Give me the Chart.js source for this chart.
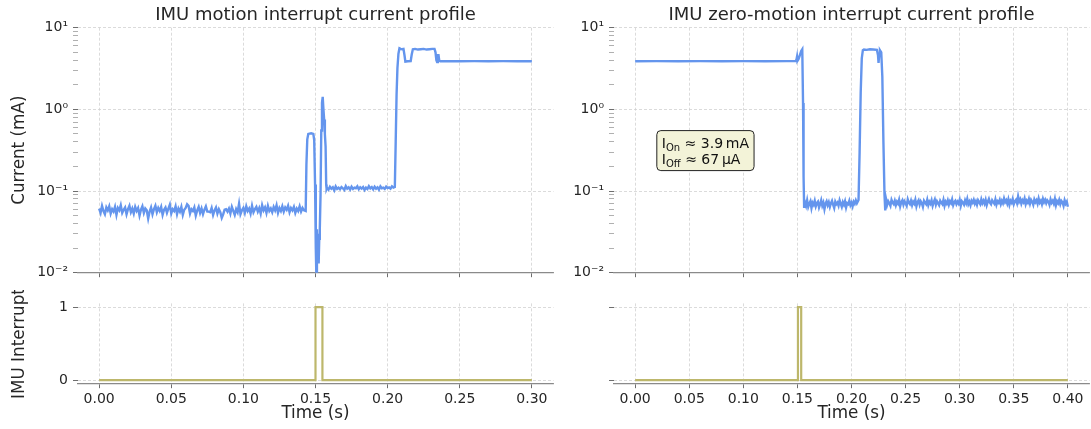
<!DOCTYPE html>
<html>
<head>
<meta charset="utf-8">
<script src="https://cdn.jsdelivr.net/npm/chart.js@4.4.1/dist/chart.umd.min.js"></script>
<style>
html,body{margin:0;padding:0;background:#fff;width:1091px;height:429px;overflow:hidden}
canvas{position:absolute;display:block}
</style>
</head>
<body>
<canvas id="tl" width="560" height="290" style="left:0px;top:0px"></canvas>
<canvas id="bl" width="560" height="139" style="left:0px;top:290px"></canvas>
<canvas id="tr" width="531" height="290" style="left:560px;top:0px"></canvas>
<canvas id="br" width="531" height="139" style="left:560px;top:290px"></canvas>
<script>
// ---------------- DATA ----------------
const titles = ['IMU motion interrupt current profile', 'IMU zero-motion interrupt current profile'];
const yLabelTop = 'Current (mA)';
const yLabelBottom = 'IMU Interrupt';
const xLabel = 'Time (s)';
const decadeValues = [0.01, 0.1, 1, 10];
const decadeLabels = ['10\u207B\u00B2', '10\u207B\u00B9', '10\u2070', '10\u00B9'];
const infoLines = [['I', 'On', ' \u2248 3.9\u2009mA'], ['I', 'Off', ' \u2248 67\u2009\u00B5A']];

const sampleStep = 0.001; // s, spacing of the noisy baseline samples

// Left: motion interrupt trace (mA)
const leftBaseStart = 0.000;
const leftBaseNoise = [
0.061,0.054,0.066,0.057,0.052,0.063,0.058,0.065,0.053,0.060,
0.056,0.064,0.051,0.062,0.058,0.067,0.054,0.059,0.063,0.052,
0.060,0.066,0.055,0.061,0.053,0.064,0.057,0.062,0.050,0.059,
0.065,0.054,0.061,0.058,0.046,0.056,0.063,0.052,0.060,0.066,
0.055,0.062,0.057,0.064,0.051,0.059,0.063,0.054,0.061,0.068,
0.053,0.060,0.057,0.065,0.052,0.061,0.056,0.064,0.051,0.059,
0.062,0.069,0.066,0.053,0.060,0.057,0.063,0.050,0.058,0.064,
0.054,0.061,0.052,0.059,0.065,0.056,0.056,0.055,0.062,0.051,
0.058,0.063,0.053,0.060,0.055,0.047,0.052,0.059,0.060,0.056,
0.061,0.053,0.064,0.057,0.051,0.060,0.055,0.070,0.052,0.058,
0.062,0.054,0.065,0.057,0.061,0.053,0.066,0.055,0.060,0.064,
0.056,0.062,0.053,0.067,0.058,0.063,0.054,0.066,0.057,0.061,
0.055,0.064,0.058,0.067,0.054,0.062,0.057,0.065,0.056,0.063,
0.059,0.066,0.055,0.062,0.058,0.064,0.054,0.061,0.057,0.065,
0.056,0.062,0.058];
const leftEventT = [0.1432,0.1437,0.1443,0.1450,0.1470,0.1485,0.1491,0.1497,0.1502,0.1506,
0.1510,0.1514,0.1518,0.1522,0.1526,0.1530,0.1535,0.1540,0.1545,0.1550,
0.1555,0.1560,0.1565,0.1570,0.1574,0.1577];
const leftEventI = [0.057,0.21,0.43,0.50,0.51,0.50,0.42,0.12,0.02,0.009,
0.034,0.016,0.030,0.013,0.026,0.035,0.09,0.55,1.20,1.42,
1.00,0.75,0.50,0.35,0.12,0.106];
const leftMidStart = 0.158;
const leftMidNoise = [
0.109,0.104,0.113,0.107,0.111,0.102,0.114,0.106,0.110,0.105,
0.112,0.108,0.103,0.115,0.107,0.111,0.104,0.113,0.106,0.110,
0.108,0.114,0.105,0.111,0.107,0.112,0.103,0.110,0.106,0.115,
0.108,0.112,0.105,0.113,0.107,0.111,0.104,0.114,0.108,0.110,
0.106,0.113,0.109,0.111,0.107,0.114,0.110];
const leftHighT = [0.2050,0.2056,0.2062,0.2068,0.2075,0.2082,0.2090,0.2100,0.2110,0.2117,
0.2123,0.2140,0.2160,0.2167,0.2175,0.2190,0.2210,0.2230,0.2250,0.2270,
0.2290,0.2310,0.2325,0.2332,0.2338,0.2343,0.2348,0.2353,0.2358,0.2365,
0.2400,0.2500,0.2600,0.2700,0.2800,0.2900,0.3000];
const leftHighI = [0.112,0.40,1.5,3.2,4.8,5.6,5.5,5.45,5.5,4.6,
3.85,3.88,3.9,4.7,5.45,5.5,5.4,5.45,5.5,5.4,
5.45,5.5,5.5,5.0,4.0,3.8,4.6,4.6,3.95,3.88,
3.9,3.88,3.9,3.89,3.9,3.88,3.89];

// Right: zero-motion interrupt trace (mA)
const rightOnT = [0,0.02,0.04,0.06,0.08,0.10,0.12,0.14,0.1485,0.1492,0.1497,0.1502,0.151,0.152,0.1535,0.1545,0.1552,0.1557,0.1562];
const rightOnI = [3.88,3.90,3.89,3.90,3.88,3.90,3.89,3.90,3.90,4.10,4.45,3.95,4.10,4.50,5.20,5.45,1.20,0.15,0.064];
const rightLowAStart = 0.157;
const rightLowA = [
0.073,0.066,0.077,0.064,0.070,0.075,0.062,0.072,0.068,0.076,
0.065,0.071,0.074,0.063,0.069,0.077,0.066,0.072,0.060,0.070,
0.075,0.067,0.073,0.064,0.071,0.076,0.068,0.062,0.074,0.069,
0.072,0.066,0.077,0.070,0.064,0.073,0.068,0.075,0.063,0.071,
0.069,0.076,0.067,0.072,0.065,0.074,0.070,0.077,0.071];
const rightPulseT = [0.2065,0.2075,0.2085,0.2095,0.2105,0.2115,0.214,0.217,0.220,0.2235,0.2245,0.2250,0.2256,0.2263,0.2275,0.2285,0.2295,0.2305,0.2312];
const rightPulseI = [0.078,0.3,1.6,4.2,5.3,5.4,5.35,5.45,5.4,5.35,4.6,3.7,4.7,5.3,5.0,2.5,0.4,0.09,0.058];
const rightLowBStart = 0.232;
const rightLowB = [
0.079,0.068,0.075,0.071,0.066,0.078,0.072,0.069,0.076,0.067,
0.074,0.070,0.078,0.065,0.073,0.077,0.068,0.075,0.071,0.066,
0.079,0.072,0.069,0.076,0.067,0.074,0.070,0.078,0.065,0.073,
0.077,0.068,0.075,0.071,0.064,0.076,0.072,0.069,0.078,0.067,
0.074,0.070,0.077,0.066,0.073,0.079,0.068,0.075,0.071,0.067,
0.076,0.072,0.069,0.078,0.066,0.074,0.070,0.077,0.068,0.075,
0.071,0.079,0.067,0.073,0.076,0.069,0.074,0.070,0.078,0.066,
0.075,0.072,0.068,0.077,0.071,0.080,0.069,0.074,0.067,0.076,
0.072,0.078,0.070,0.075,0.068,0.077,0.073,0.069,0.079,0.071,
0.076,0.070,0.078,0.067,0.074,0.080,0.072,0.069,0.077,0.073,
0.070,0.079,0.068,0.075,0.072,0.078,0.069,0.076,0.071,0.081,
0.073,0.077,0.070,0.079,0.068,0.076,0.072,0.080,0.069,0.075,
0.078,0.071,0.086,0.074,0.079,0.070,0.077,0.073,0.081,0.069,
0.076,0.072,0.080,0.070,0.078,0.074,0.068,0.079,0.073,0.077,
0.070,0.081,0.072,0.076,0.069,0.080,0.073,0.078,0.071,0.077,
0.074,0.068,0.079,0.072,0.076,0.070,0.080,0.067,0.075,0.071,
0.078,0.069,0.076,0.073,0.066,0.077,0.070,0.074,0.064];

// Interrupt lines (step)
const leftIntT = [0, 0.150, 0.1548, 0.300];
const leftIntV = [0, 1, 0, 0];
const rightIntT = [0, 0.1505, 0.1535, 0.400];
const rightIntV = [0, 1, 0, 0];

// ---------------- BUILD ----------------
function sampled(t0, vals) { return vals.map((v, i) => ({x: +(t0 + i * sampleStep).toFixed(4), y: v})); }
function pairs(ts, vs) { return ts.map((t, i) => ({x: t, y: vs[i]})); }

const leftCurrent = [].concat(sampled(leftBaseStart, leftBaseNoise), pairs(leftEventT, leftEventI),
  sampled(leftMidStart, leftMidNoise), pairs(leftHighT, leftHighI));
const rightCurrent = [].concat(pairs(rightOnT, rightOnI), sampled(rightLowAStart, rightLowA),
  pairs(rightPulseT, rightPulseI), sampled(rightLowBStart, rightLowB));

const FONT = "'DejaVu Sans', 'Noto Sans', sans-serif";
Chart.defaults.font.family = FONT;
Chart.defaults.color = '#262626';

const GRID = '#d2d2d2';
const SPINE = '#8a8a8a';
const TICKC = '#6e6e6e';
const DASH = [3, 2];
const CUR_COLOR = '#6495ED';
const INT_COLOR = '#BDB76B';

function decadeIndex(v) {
  for (let i = 0; i < decadeValues.length; i++) if (Math.abs(v / decadeValues[i] - 1) < 1e-6) return i;
  return -1;
}
function wholeMantissa(v) {
  const e = Math.floor(Math.log10(v) + 1e-9);
  const m = v / Math.pow(10, e);
  return Math.abs(m - Math.round(m)) < 1e-6;
}

const infoBox = {
  id: 'infoBox',
  afterDatasetsDraw(chart) {
    const {ctx, chartArea: a} = chart;
    const bx = a.left + 0.091 * (a.right - a.left);
    const by = a.top + 0.42 * (a.bottom - a.top);
    const big = "14px " + FONT, small = "10px " + FONT;
    ctx.save();
    const widths = infoLines.map(p => {
      ctx.font = big; let w = ctx.measureText(p[0]).width + ctx.measureText(p[2]).width;
      ctx.font = small; w += ctx.measureText(p[1]).width; return w;
    });
    const pad = 5, lineGap = 16.5;
    const w = Math.max(...widths) + 2 * pad, h = 40;
    ctx.beginPath();
    ctx.roundRect(bx, by, w, h, 4);
    ctx.fillStyle = '#f3f3d8';
    ctx.fill();
    ctx.lineWidth = 1;
    ctx.strokeStyle = '#222';
    ctx.stroke();
    ctx.fillStyle = '#111';
    ctx.textBaseline = 'alphabetic';
    ctx.textAlign = 'left';
    infoLines.forEach((p, i) => {
      const base = by + 17 + i * lineGap;
      let x = bx + pad;
      ctx.font = big; ctx.fillText(p[0], x, base); x += ctx.measureText(p[0]).width;
      ctx.font = small; ctx.fillText(p[1], x, base + 3); x += ctx.measureText(p[1]).width;
      ctx.font = big; ctx.fillText(p[2], x, base);
    });
    ctx.restore();
  }
};

function xScale(o) {
  return {
    type: 'linear', min: o.xMin, max: o.xMax,
    afterFit: s => { s.height = o.xH; },
    ticks: { stepSize: 0.05, includeBounds: false, autoSkip: false, maxRotation: 0,
      font: {size: 14}, color: '#262626', padding: 2.5,
      callback: v => o.xLabels ? Number(v).toFixed(2) : '' },
    grid: { color: GRID, lineWidth: 0.8, tickColor: TICKC, tickLength: 4.5, tickWidth: 1 },
    border: { display: true, color: SPINE, width: 1.3, dash: DASH },
    title: { display: !!o.xLabels, text: xLabel, font: {size: 16.8}, color: '#262626', padding: {top: 0, bottom: 5} }
  };
}

function makeTop(id, o) {
  return new Chart(document.getElementById(id), {
    type: 'line',
    data: { datasets: [{ data: o.data, borderColor: CUR_COLOR, borderWidth: 2.4, pointRadius: 0, tension: 0, fill: false }] },
    options: {
      responsive: false, animation: false, devicePixelRatio: 1, parsing: false, normalized: true,
      events: [],
      layout: { padding: { left: 0, right: o.padRight, top: 0, bottom: 0 } },
      plugins: {
        legend: {display: false}, tooltip: {enabled: false},
        title: { display: true, text: o.title, fullSize: false, align: 'center',
          font: {size: 18, weight: 'normal'}, color: '#262626', padding: {top: 4.2, bottom: 1.9} }
      },
      scales: {
        x: xScale({xMin: o.xMin, xMax: o.xMax, xH: 17.3, xLabels: false}),
        y: {
          type: 'logarithmic', min: 0.01, max: 10,
          afterFit: s => { s.width = o.yW; },
          afterBuildTicks: s => { s.ticks = s.ticks.filter(t => wholeMantissa(t.value)); },
          ticks: { autoSkip: false, font: {size: 14}, color: '#262626', padding: 5,
            callback: v => { const i = decadeIndex(v); return i >= 0 ? decadeLabels[i] : ''; } },
          grid: {
            color: c => decadeIndex(c.tick.value) >= 0 ? GRID : 'rgba(0,0,0,0)',
            tickColor: c => decadeIndex(c.tick.value) >= 0 ? TICKC : '#b0b0b0',
            lineWidth: 0.8, tickLength: 4.5, tickWidth: 1
          },
          border: { display: false, dash: DASH },
          title: { display: !!o.yTitle, text: yLabelTop, font: {size: 16.8}, color: '#262626', padding: {top: 9.6, bottom: 0} }
        }
      }
    },
    plugins: o.plugins || []
  });
}

function makeBottom(id, o) {
  return new Chart(document.getElementById(id), {
    type: 'line',
    data: { datasets: [{ data: o.data, borderColor: INT_COLOR, borderWidth: 2.2, pointRadius: 0, tension: 0, fill: false, stepped: 'before' }] },
    options: {
      responsive: false, animation: false, devicePixelRatio: 1, parsing: false,
      events: [],
      layout: { padding: { left: 0, right: o.padRight, top: 11.3, bottom: 0 } },
      plugins: { legend: {display: false}, tooltip: {enabled: false}, title: {display: false} },
      scales: {
        x: xScale({xMin: o.xMin, xMax: o.xMax, xH: 45.3, xLabels: true}),
        y: {
          type: 'linear', min: -0.05, max: 1.05,
          afterFit: s => { s.width = o.yW; },
          ticks: { stepSize: 1, includeBounds: false, autoSkip: false, font: {size: 14}, color: '#262626', padding: 5,
            callback: v => o.yLabels ? String(v) : '' },
          grid: { color: GRID, lineWidth: 0.8, tickColor: TICKC, tickLength: 4.5, tickWidth: 1 },
          border: { display: false, dash: DASH },
          title: { display: !!o.yTitle, text: yLabelBottom, font: {size: 16.8}, color: '#262626', padding: {top: 9.6, bottom: 0} }
        }
      }
    }
  });
}

makeTop('tl', { data: leftCurrent, title: titles[0], xMin: -0.015, xMax: 0.315, yW: 77.5, padRight: 6.5, yTitle: true });
makeTop('tr', { data: rightCurrent, title: titles[1], xMin: -0.02, xMax: 0.42, yW: 53.5, padRight: 1.5, yTitle: false, plugins: [infoBox] });
makeBottom('bl', { data: pairs(leftIntT, leftIntV), xMin: -0.015, xMax: 0.315, yW: 77.5, padRight: 6.5, yTitle: true, yLabels: true });
makeBottom('br', { data: pairs(rightIntT, rightIntV), xMin: -0.02, xMax: 0.42, yW: 53.5, padRight: 1.5, yTitle: false, yLabels: false });
</script>
</body>
</html>
